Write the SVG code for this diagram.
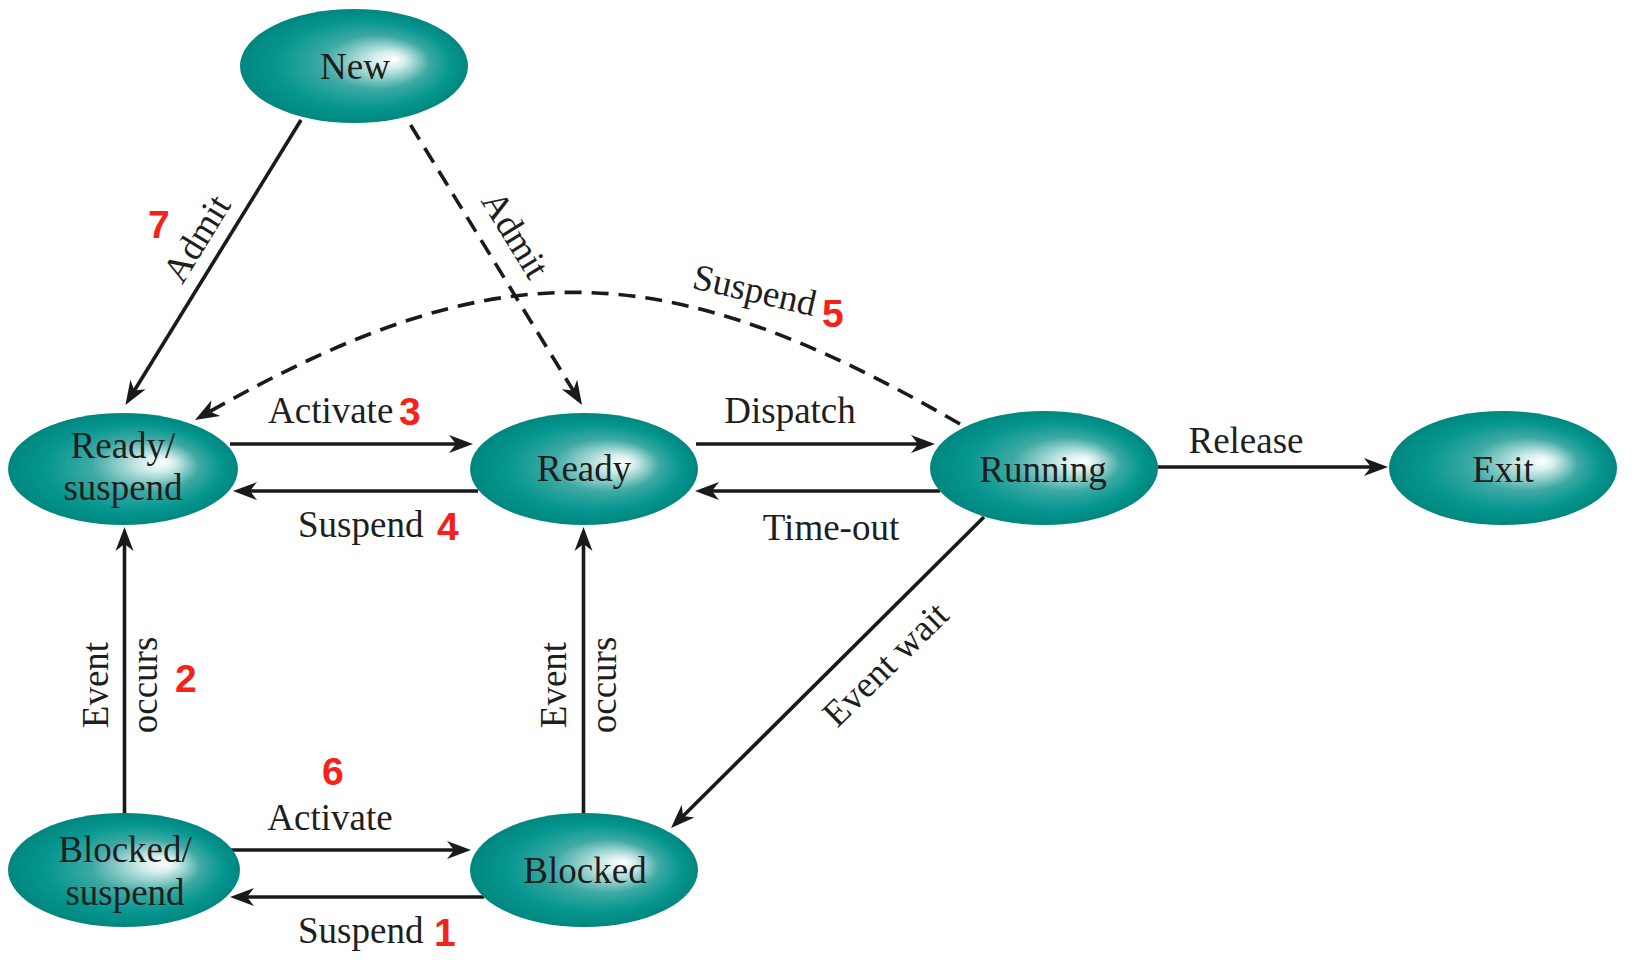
<svg xmlns="http://www.w3.org/2000/svg" width="1638" height="960" viewBox="0 0 1638 960">
<defs>
  <radialGradient id="teal" cx="0.5" cy="0.5" r="0.5" fx="0.68" fy="0.44">
    <stop offset="0" stop-color="#ffffff"/>
    <stop offset="0.14" stop-color="#d6eeec"/>
    <stop offset="0.47" stop-color="#3ea9a4"/>
    <stop offset="0.76" stop-color="#069790"/>
    <stop offset="1" stop-color="#00877f"/>
  </radialGradient>
  <marker id="arrow" markerUnits="userSpaceOnUse" viewBox="-16 -11 28 22" refX="0" refY="0" markerWidth="28" markerHeight="22" orient="auto">
    <path d="M10,0 L-14,-9 L-7,0 L-14,9 Z" fill="#1a1a1a"/>
  </marker>
  <style>
    .node { fill: url(#teal); }
    .nt { font-family: "Liberation Serif", "Times New Roman", serif; font-size: 37px; fill: #1e1e1e; text-anchor: middle; }
    .lb { font-family: "Liberation Serif", "Times New Roman", serif; font-size: 37px; fill: #1e1e1e; }
    .num { font-family: "Liberation Sans", Arial, sans-serif; font-weight: bold; font-size: 39px; fill: #f5221b; }
    .edge { fill: none; stroke: #1a1a1a; stroke-width: 3.6; marker-end: url(#arrow); }
    .dash { stroke-dasharray: 17 10; }
  </style>
</defs>
<rect width="1638" height="960" fill="#ffffff"/>

<g id="connectors">
  <path class="edge" d="M301,120 L130.7,396.5"/>
  <path class="edge dash" d="M410.6,125 L576.8,396.5"/>
  <path class="edge" d="M230,444 L463,444"/>
  <path class="edge" d="M478,491 L243,491"/>
  <path class="edge" d="M696,444 L925,444"/>
  <path class="edge" d="M940,491 L705,491"/>
  <path class="edge" d="M1158,467 L1378,467"/>
  <path class="edge dash" d="M960,424 C661,251 495,249 203.7,415"/>
  <path class="edge" d="M984,517 L678.1,821"/>
  <path class="edge" d="M124.5,813 L124.5,537"/>
  <path class="edge" d="M583.5,813 L583.5,537"/>
  <path class="edge" d="M230,850 L461,850"/>
  <path class="edge" d="M484,897 L240,897"/>
</g>

<g id="labels">
  <text class="lb" text-anchor="middle" transform="translate(207,245) rotate(-58.4)">Admit</text>
  <text class="num" x="148" y="238">7</text>
  <text class="lb" text-anchor="middle" transform="translate(505,241) rotate(58.5)">Admit</text>
  <text class="lb" text-anchor="middle" transform="translate(752,302) rotate(13)">Suspend</text>
  <text class="num" x="822" y="327">5</text>
  <text class="lb" x="268" y="423">Activate</text>
  <text class="num" x="399" y="425">3</text>
  <text class="lb" text-anchor="middle" x="790" y="423">Dispatch</text>
  <text class="lb" text-anchor="middle" x="1246" y="453">Release</text>
  <text class="lb" x="298" y="537">Suspend</text>
  <text class="num" x="437" y="540">4</text>
  <text class="lb" text-anchor="middle" x="831" y="540">Time-out</text>
  <text class="lb" text-anchor="middle" transform="translate(894,673) rotate(-44.5)">Event wait</text>
  <text class="lb" text-anchor="middle" transform="translate(108,685) rotate(-90)">Event</text>
  <text class="lb" text-anchor="middle" transform="translate(157,685) rotate(-90)">occurs</text>
  <text class="num" x="175" y="692">2</text>
  <text class="lb" text-anchor="middle" transform="translate(566,685) rotate(-90)">Event</text>
  <text class="lb" text-anchor="middle" transform="translate(616,685) rotate(-90)">occurs</text>
  <text class="num" x="322" y="785">6</text>
  <text class="lb" text-anchor="middle" x="330" y="830">Activate</text>
  <text class="lb" x="298" y="943">Suspend</text>
  <text class="num" x="434" y="946">1</text>
</g>

<g id="node-new">
  <ellipse class="node" cx="354" cy="66" rx="114" ry="57"/>
  <text class="nt" x="355" y="79">New</text>
</g>
<g id="node-ready-suspend">
  <ellipse class="node" cx="123" cy="469" rx="115" ry="56"/>
  <text class="nt" x="123" y="458">Ready/</text>
  <text class="nt" x="123" y="500">suspend</text>
</g>
<g id="node-ready">
  <ellipse class="node" cx="584" cy="469" rx="114" ry="56"/>
  <text class="nt" x="584" y="481">Ready</text>
</g>
<g id="node-running">
  <ellipse class="node" cx="1044" cy="468" rx="114" ry="57"/>
  <text class="nt" x="1043" y="482">Running</text>
</g>
<g id="node-exit">
  <ellipse class="node" cx="1503" cy="468" rx="114" ry="57"/>
  <text class="nt" x="1503" y="482">Exit</text>
</g>
<g id="node-blocked-suspend">
  <ellipse class="node" cx="124" cy="870" rx="116" ry="57"/>
  <text class="nt" x="125" y="862">Blocked/</text>
  <text class="nt" x="125" y="905">suspend</text>
</g>
<g id="node-blocked">
  <ellipse class="node" cx="584" cy="870" rx="114" ry="57"/>
  <text class="nt" x="585" y="883">Blocked</text>
</g>
</svg>
